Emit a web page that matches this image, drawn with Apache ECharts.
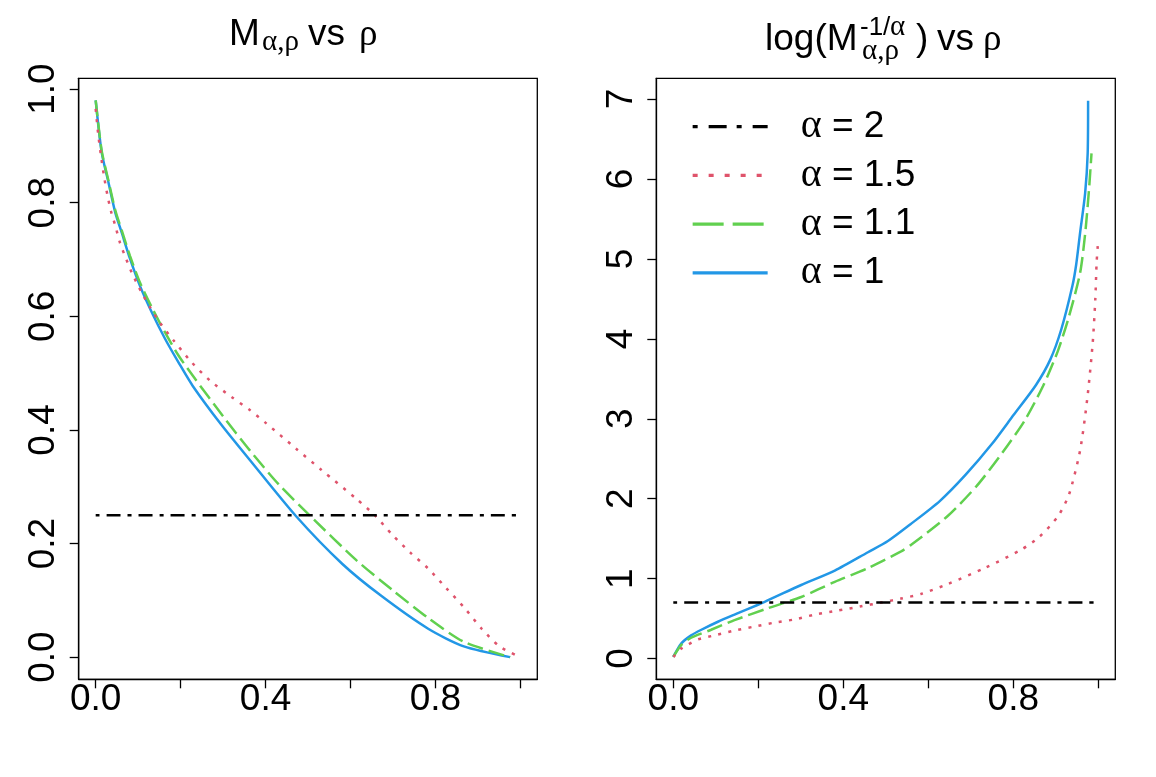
<!DOCTYPE html>
<html>
<head>
<meta charset="utf-8">
<script src="https://cdn.jsdelivr.net/npm/echarts@6/dist/echarts.min.js"></script>
<style>
  html, body { margin: 0; padding: 0; background: #fff; }
  #chart { width: 1156px; height: 777px; }
</style>
</head>
<body>
<div id="chart"></div>
<script>
// series names (legend order)
var alphaNames = ['α = 2', 'α = 1.5', 'α = 1.1', 'α = 1'];

// tick values
var rhoTicks = [0, 0.2, 0.4, 0.6, 0.8, 1.0];
var rhoLabels = [0, 0.4, 0.8];
var mTicks = [0, 0.2, 0.4, 0.6, 0.8, 1.0];
var logTicks = [0, 1, 2, 3, 4, 5, 6, 7];

// left panel: M(alpha, rho) vs rho
var rhoA2 = [0, 0.99];
var mA2 = [0.25, 0.25];

var rhoA15 = [0, 0.006, 0.013, 0.020, 0.028, 0.036, 0.046, 0.057, 0.068, 0.085, 0.108, 0.128, 0.151, 0.183,
  0.226, 0.269, 0.320, 0.363, 0.401, 0.472, 0.531, 0.615, 0.657, 0.699, 0.741, 0.783, 0.825, 0.867, 0.909, 0.951, 1.0];
var mA15 = [0.965, 0.920, 0.880, 0.845, 0.812, 0.785, 0.760, 0.730, 0.708, 0.677, 0.642, 0.616, 0.589, 0.558,
  0.519, 0.487, 0.458, 0.435, 0.412, 0.367, 0.330, 0.278, 0.250, 0.215, 0.184, 0.156, 0.122, 0.088, 0.050, 0.019, 0.0];

var rhoA11 = [0, 0.014, 0.030, 0.046, 0.061, 0.081, 0.104, 0.132, 0.163, 0.195, 0.234, 0.300, 0.363, 0.430,
  0.506, 0.615, 0.699, 0.783, 0.867, 0.976];
var mA11 = [0.98, 0.892, 0.839, 0.787, 0.752, 0.706, 0.660, 0.616, 0.572, 0.531, 0.490, 0.424, 0.364, 0.305,
  0.248, 0.170, 0.118, 0.069, 0.027, 0.0];

var rhoA1 = [0, 0.014, 0.030, 0.046, 0.061, 0.081, 0.104, 0.132, 0.163, 0.195, 0.229, 0.296, 0.363, 0.472,
  0.581, 0.674, 0.783, 0.867, 0.976];
var mA1 = [0.98, 0.889, 0.836, 0.783, 0.748, 0.701, 0.654, 0.607, 0.561, 0.519, 0.477, 0.409, 0.347, 0.248,
  0.164, 0.107, 0.050, 0.019, 0.0];

// right panel: log(M^(-1/alpha)) vs rho
var lgA2 = [0.7, 0.7];

var rhoL15 = [0, 0.019, 0.035, 0.058, 0.097, 0.144, 0.191, 0.239, 0.286, 0.333, 0.387, 0.439, 0.489, 0.536,
  0.584, 0.645, 0.732, 0.818, 0.861, 0.905, 0.931, 0.957, 0.974, 0.987, 0.993, 0.996, 0.999];
var lgA15 = [0.02, 0.125, 0.175, 0.24, 0.29, 0.35, 0.40, 0.45, 0.49, 0.55, 0.60, 0.65, 0.70, 0.75,
  0.81, 0.93, 1.13, 1.36, 1.52, 1.78, 2.05, 2.60, 3.25, 3.96, 4.50, 4.95, 5.18];

var rhoL11 = [0, 0.019, 0.042, 0.089, 0.144, 0.223, 0.301, 0.380, 0.458, 0.536, 0.559, 0.645, 0.714, 0.775,
  0.827, 0.870, 0.905, 0.931, 0.957, 0.969, 0.978, 0.984];
var lgA11 = [0.02, 0.17, 0.26, 0.36, 0.48, 0.63, 0.77, 0.96, 1.13, 1.34, 1.42, 1.78, 2.16, 2.58,
  2.98, 3.41, 3.85, 4.28, 4.82, 5.31, 5.86, 6.32];

var rhoL1 = [0, 0.019, 0.042, 0.066, 0.105, 0.144, 0.215, 0.301, 0.380, 0.458, 0.505, 0.558, 0.627, 0.688,
  0.749, 0.801, 0.853, 0.887, 0.913, 0.939, 0.948, 0.957, 0.969, 0.975, 0.976];
var lgA1 = [0.02, 0.19, 0.29, 0.36, 0.46, 0.55, 0.71, 0.92, 1.10, 1.33, 1.47, 1.68, 1.97, 2.30,
  2.68, 3.05, 3.42, 3.74, 4.12, 4.66, 4.93, 5.32, 5.82, 6.32, 6.98];

var SANS = '"Liberation Sans", Arial, sans-serif';
var SERIF = '"Liberation Serif", "DejaVu Serif", serif';
var col = { a2: '#000000', a15: '#DF536B', a11: '#61D04F', a1: '#2297E6' };

function pairs(xs, ys) {
  return xs.map(function (x, i) { return [x, ys[i]]; });
}

function xAxis(gi) {
  return {
    type: 'value', gridIndex: gi, min: -0.04, max: 1.04,
    axisLine: { show: true, onZero: false, lineStyle: { color: '#000', width: 1.3 } },
    splitLine: { show: false },
    axisTick: { show: true, length: 9, lineStyle: { color: '#000', width: 1.3 }, customValues: rhoTicks },
    axisLabel: {
      customValues: rhoLabels, margin: 2, color: '#000', fontSize: 37, fontFamily: SANS,
      formatter: function (v) { return v.toFixed(1); }
    }
  };
}

function yAxis(gi, min, max, ticks, digits) {
  return {
    type: 'value', gridIndex: gi, min: min, max: max,
    axisLine: { show: true, onZero: false, lineStyle: { color: '#000', width: 1.3 } },
    splitLine: { show: false },
    axisTick: { show: true, length: 9, lineStyle: { color: '#000', width: 1.3 }, customValues: ticks },
    axisLabel: {
      customValues: ticks, rotate: 90, margin: 16, color: '#000', fontSize: 37, fontFamily: SANS,
      formatter: function (v) { return v.toFixed(digits); }
    }
  };
}

function line(name, gi, data, color, type, z) {
  return {
    name: name, type: 'line', xAxisIndex: gi, yAxisIndex: gi, data: data,
    symbol: 'none', smooth: 0.25, z: z,
    lineStyle: { color: color, width: 2.5, type: type },
    itemStyle: { color: color }
  };
}

// title pieces (plotmath-like sub/superscripts)
function txt(s, x, baseline, size, family) {
  return {
    type: 'text', x: x, y: baseline - 0.345 * size,
    style: { text: s, font: size + 'px ' + family, fill: '#000', align: 'left', verticalAlign: 'middle' }
  };
}

var titles = [
  txt('M', 229, 47.7, 37, SANS),
  txt('α,ρ', 262, 52, 29, SERIF),
  txt('vs', 308, 47.7, 37, SANS),
  txt('ρ', 359, 47.7, 37, SERIF),

  txt('log(M', 765, 52.7, 37, SANS),
  txt('-1/', 860, 37, 26, SANS),
  txt('α', 890, 37, 29, SERIF),
  txt('α,ρ', 862, 61, 29, SERIF),
  txt(')', 916, 52.7, 37, SANS),
  txt('vs', 937, 52.7, 37, SANS),
  txt('ρ', 983, 52.7, 37, SERIF)
];

var hideDot = { opacity: 0 };

var chart = echarts.init(document.getElementById('chart'));
chart.setOption({
  backgroundColor: '#fff',
  animation: false,
  grid: [
    { left: 78.7, top: 78.3, width: 458.6, height: 601, show: true, borderColor: '#000', borderWidth: 1.3 },
    { left: 656.3, top: 78.3, width: 459, height: 601, show: true, borderColor: '#000', borderWidth: 1.3 }
  ],
  xAxis: [xAxis(0), xAxis(1)],
  yAxis: [yAxis(0, -0.039, 1.019, mTicks, 1), yAxis(1, -0.26, 7.26, logTicks, 0)],
  legend: {
    left: 691, top: 106.7, orient: 'vertical', padding: 0, selectedMode: false,
    itemWidth: 75, itemHeight: 14, itemGap: 8.7,
    textStyle: {
      fontSize: 37, lineHeight: 38, fontFamily: SANS, color: '#000', padding: [0, 0, 0, 28],
      rich: { g: { fontFamily: SERIF, fontSize: 40, lineHeight: 38 } }
    },
    formatter: function (name) { return '{g|α}' + name.slice(1); },
    data: [
      { name: alphaNames[0], itemStyle: hideDot, lineStyle: { width: 3.3, type: [5, 11, 18, 10], color: col.a2 } },
      { name: alphaNames[1], itemStyle: hideDot, lineStyle: { width: 3.3, type: [5, 11], color: col.a15 } },
      { name: alphaNames[2], itemStyle: hideDot, lineStyle: { width: 3.3, type: [31, 9], color: col.a11 } },
      { name: alphaNames[3], itemStyle: hideDot, lineStyle: { width: 3.3, type: 'solid', color: col.a1 } }
    ]
  },
  graphic: titles,
  series: [
    line(alphaNames[3], 0, pairs(rhoA1, mA1), col.a1, 'solid', 2),
    line(alphaNames[2], 0, pairs(rhoA11, mA11), col.a11, [16, 6], 3),
    line(alphaNames[1], 0, pairs(rhoA15, mA15), col.a15, [3, 7.3], 4),
    line(alphaNames[0], 0, pairs(rhoA2, mA2), col.a2, [4, 7, 14, 7], 5),

    line(alphaNames[3], 1, pairs(rhoL1, lgA1), col.a1, 'solid', 2),
    line(alphaNames[2], 1, pairs(rhoL11, lgA11), col.a11, [16, 6], 3),
    line(alphaNames[1], 1, pairs(rhoL15, lgA15), col.a15, [3, 7.3], 4),
    line(alphaNames[0], 1, pairs(rhoA2, lgA2), col.a2, [4, 7, 14, 7], 5)
  ]
});
</script>
</body>
</html>
